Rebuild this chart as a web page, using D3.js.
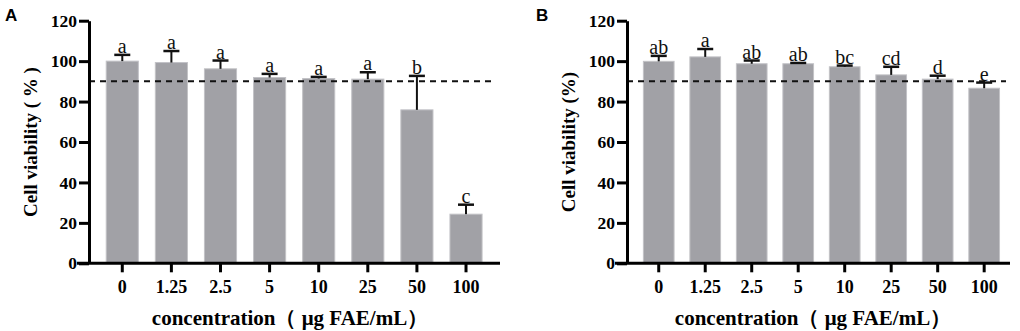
<!DOCTYPE html>
<html>
<head>
<meta charset="utf-8">
<script src="https://cdn.jsdelivr.net/npm/d3@7"></script>
<style>
  body { margin: 0; background: #fff; }
  svg { display: block; }
</style>
</head>
<body>
<div id="chart"></div>
<script>
const categories = ['0', '1.25', '2.5', '5', '10', '25', '50', '100'];
const yTicks = [0, 20, 40, 60, 80, 100, 120];
const threshold = 90;

// Panel A
const meanA = [100, 99.3, 96.2, 91.9, 91.4, 91.1, 75.9, 24.3];
const errA = [103.1, 105, 100.3, 93.7, 92.2, 94.5, 92.7, 29];
const lettersA = ['a', 'a', 'a', 'a', 'a', 'a', 'b', 'c'];

// Panel B
const meanB = [99.9, 102.1, 98.7, 98.7, 97.2, 93.2, 91.1, 86.6];
const errB = [102.6, 106, 100.3, 99.1, 97.8, 97.2, 92.8, 89.4];
const lettersB = ['ab', 'a', 'ab', 'ab', 'bc', 'cd', 'd', 'e'];

const width = 1020, height = 331;
const serif = '"Liberation Serif", "Times New Roman", serif';

const svg = d3.select('#chart')
  .append('svg')
  .attr('width', width)
  .attr('height', height);

function drawPanel(opts) {
  const { tag, tagX, x0, x1, pIn, pOut, align, mean, err, letters, yTitle, yTitleX, xTitleX } = opts;

  const top = 20.7, bottom = 263.3;

  const x = d3.scaleBand()
    .domain(categories)
    .range([x0, x1])
    .paddingInner(pIn)
    .paddingOuter(pOut)
    .align(align);

  const y = d3.scaleLinear()
    .domain([0, 120])
    .range([bottom, top]);

  const g = svg.append('g');

  // Bars
  g.selectAll('.bar')
    .data(categories)
    .enter()
    .append('rect')
    .attr('x', d => x(d))
    .attr('y', (d, i) => y(mean[i]))
    .attr('width', x.bandwidth())
    .attr('height', (d, i) => bottom - y(mean[i]))
    .attr('fill', '#a1a1a6')
    .attr('stroke', '#c2c2c6')
    .attr('stroke-width', 1);

  // Error bars (upper only)
  const cx = d => x(d) + x.bandwidth() / 2;
  g.selectAll('.err')
    .data(categories)
    .enter()
    .append('line')
    .attr('x1', cx)
    .attr('x2', cx)
    .attr('y1', (d, i) => y(mean[i]))
    .attr('y2', (d, i) => y(err[i]))
    .attr('stroke', '#111')
    .attr('stroke-width', 2);

  g.selectAll('.cap')
    .data(categories)
    .enter()
    .append('line')
    .attr('x1', d => cx(d) - 8)
    .attr('x2', d => cx(d) + 8)
    .attr('y1', (d, i) => y(err[i]))
    .attr('y2', (d, i) => y(err[i]))
    .attr('stroke', '#111')
    .attr('stroke-width', 2.5);

  // Significance letters
  g.selectAll('.letter')
    .data(categories)
    .enter()
    .append('text')
    .attr('x', cx)
    .attr('y', (d, i) => y(err[i]) - 2)
    .attr('text-anchor', 'middle')
    .style('font-family', serif)
    .style('font-size', '20px')
    .attr('fill', '#111')
    .text((d, i) => letters[i]);

  // Threshold line
  g.append('line')
    .attr('x1', x0)
    .attr('x2', x1 - 4)
    .attr('y1', y(threshold))
    .attr('y2', y(threshold))
    .attr('stroke', '#111')
    .attr('stroke-width', 2)
    .attr('stroke-dasharray', '6,5');

  // Y axis
  g.append('g')
    .attr('transform', `translate(${x0},0)`)
    .call(d3.axisLeft(y).tickValues(yTicks).tickSize(10).tickSizeOuter(0).tickPadding(2))
    .call(a => a.select('.domain').attr('stroke', '#000').attr('stroke-width', 3))
    .call(a => a.selectAll('line').attr('stroke', '#000').attr('stroke-width', 3))
    .call(a => a.selectAll('text')
      .attr('fill', '#000')
      .style('font-family', serif)
      .style('font-weight', 'bold')
      .style('font-size', '17.5px'));

  // X axis
  g.append('g')
    .attr('transform', `translate(0,${bottom})`)
    .call(d3.axisBottom(x).tickSize(9).tickSizeOuter(0).tickPadding(8))
    .call(a => a.select('.domain').attr('stroke', '#000').attr('stroke-width', 3)
      .attr('d', `M${x0 - 12},0H${x1}`))
    .call(a => a.selectAll('line').attr('stroke', '#000').attr('stroke-width', 3))
    .call(a => a.selectAll('text')
      .attr('fill', '#000')
      .style('font-family', serif)
      .style('font-weight', 'bold')
      .style('font-size', '18px'));

  // Axis titles
  g.append('text')
    .attr('transform', `translate(${yTitleX},${(top + bottom) / 2}) rotate(-90)`)
    .attr('text-anchor', 'middle')
    .attr('dominant-baseline', 'central')
    .style('font-family', serif)
    .style('font-weight', 'bold')
    .style('font-size', '19px')
    .text(yTitle);

  g.append('text')
    .attr('x', xTitleX)
    .attr('y', 325)
    .attr('text-anchor', 'middle')
    .style('font-family', serif)
    .style('font-weight', 'bold')
    .style('font-size', '21px')
    .text('concentration（ μg FAE/mL）');

  // Panel tag
  g.append('text')
    .attr('x', tagX)
    .attr('y', 21)
    .style('font-family', '"Liberation Sans", Arial, sans-serif')
    .style('font-weight', 'bold')
    .style('font-size', '17px')
    .text(tag);
}

drawPanel({
  tag: 'A', tagX: 5, x0: 89, x1: 500, pIn: 0.346, pOut: 0.358, align: 0.49,
  mean: meanA, err: errA, letters: lettersA,
  yTitle: 'Cell viability ( % )', yTitleX: 30, xTitleX: 290
});

drawPanel({
  tag: 'B', tagX: 536, x0: 627, x1: 1010, pIn: 0.34, pOut: 0.289, align: 0.61,
  mean: meanB, err: errB, letters: lettersB,
  yTitle: 'Cell viability (%)', yTitleX: 568, xTitleX: 813
});
</script>
</body>
</html>
